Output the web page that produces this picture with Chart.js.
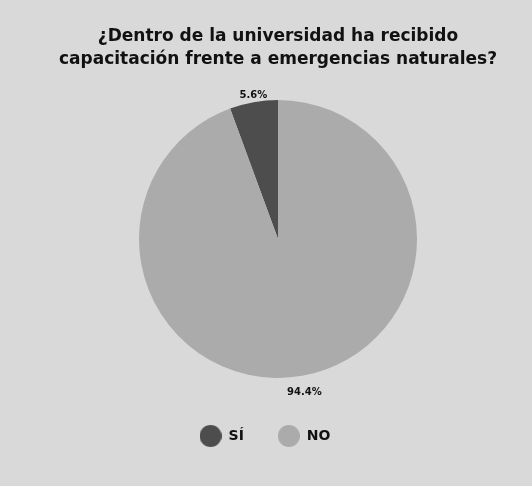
<!DOCTYPE html>
<html>
<head>
<meta charset="utf-8">
<script src="https://cdn.jsdelivr.net/npm/chart.js@4/dist/chart.umd.min.js"></script>
<style>
  html, body { margin: 0; padding: 0; background: #d9d9d9; }
  #wrap { width: 532px; height: 486px; }
</style>
</head>
<body>
<div id="wrap"><canvas id="pie-chart"></canvas></div>
<script>
const titleLines = ['¿Dentro de la universidad ha recibido', 'capacitación frente a emergencias naturales?'];
const labels = ['SÍ', 'NO'];
const values = [5.6, 94.4];
const colors = ['#4d4d4d', '#ababab'];

const FONT = "'DejaVu Sans', sans-serif";

// round swatches for the legend, bigger than the legend font
function dot(color, size) {
    const c = document.createElement('canvas');
    c.width = size;
    c.height = size;
    const ctx = c.getContext('2d');
    ctx.fillStyle = color;
    ctx.beginPath();
    ctx.arc(size / 2, size / 2, size / 2, 0, Math.PI * 2);
    ctx.fill();
    return c;
}
const dots = colors.map(c => dot(c, 22));

// percentage labels just outside the pie
const outsideLabels = {
    id: 'outsideLabels',
    afterDatasetsDraw(chart) {
        const ctx = chart.ctx;
        const meta = chart.getDatasetMeta(0);
        ctx.save();
        ctx.font = "bold 10px " + FONT;
        ctx.fillStyle = '#111';
        ctx.textAlign = 'center';
        meta.data.forEach((arc, i) => {
            const mid = (arc.startAngle + arc.endAngle) / 2;
            const up = Math.sin(mid) < 0;
            const r = arc.outerRadius + (up ? 2 : 12);
            ctx.textBaseline = up ? 'bottom' : 'top';
            ctx.fillText(values[i].toFixed(1) + '%', arc.x + Math.cos(mid) * r, arc.y + Math.sin(mid) * r);
        });
        ctx.restore();
    }
};

// the pie sits a bit right of centre, the legend stays centred on the canvas
const legendShift = {
    id: 'legendShift',
    afterLayout(chart) {
        chart.legend.left -= 13;
        chart.legend.right -= 13;
    }
};

new Chart(document.getElementById('pie-chart'), {
    type: 'pie',
    data: {
        labels: labels,
        datasets: [{
            data: values,
            backgroundColor: colors,
            borderWidth: 0,
            radius: 139
        }]
    },
    options: {
        responsive: true,
        maintainAspectRatio: false,
        animation: false,
        rotation: -values[0] * 3.6,
        layout: {
            padding: { left: 24, right: 0, top: 0, bottom: 33 }
        },
        plugins: {
            title: {
                display: true,
                text: titleLines,
                color: '#111',
                font: { family: FONT, size: 17, weight: 'bold', lineHeight: 1.3 },
                padding: { top: 26, bottom: 12.8 }
            },
            legend: {
                position: 'bottom',
                labels: {
                    usePointStyle: true,
                    pointStyleWidth: 22,
                    padding: 34,
                    color: '#111',
                    font: { family: FONT, size: 14, weight: 'bold' },
                    generateLabels(chart) {
                        const items = Chart.overrides.pie.plugins.legend.labels.generateLabels(chart);
                        items.forEach((it, i) => { it.pointStyle = dots[i]; });
                        return items;
                    }
                }
            },
            tooltip: { enabled: false }
        }
    },
    plugins: [outsideLabels, legendShift]
});
</script>
</body>
</html>
